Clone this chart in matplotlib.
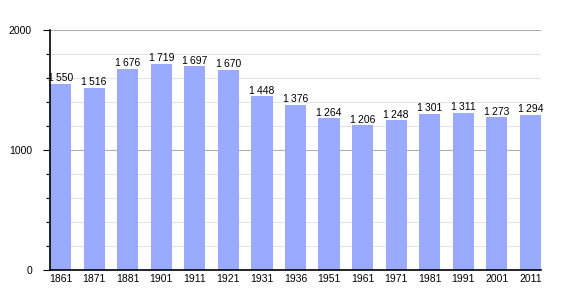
import matplotlib
matplotlib.use("Agg")
import matplotlib.pyplot as plt
from matplotlib.ticker import MultipleLocator

plt.rcParams['font.family'] = ['Liberation Sans', 'DejaVu Sans']

years = ["1861", "1871", "1881", "1901", "1911", "1921", "1931", "1936",
         "1951", "1961", "1971", "1981", "1991", "2001", "2011"]
population = [1550, 1516, 1676, 1719, 1697, 1670, 1448, 1376,
              1264, 1206, 1248, 1301, 1311, 1273, 1294]

fig = plt.figure(figsize=(5.7, 3.0), dpi=100)
ax = fig.add_axes([50 / 570, 30 / 300, 491 / 570, 240 / 300])

w = 0.63
x = range(len(years))
ax.bar(x, population, width=w, color="#99aaff", zorder=2)

for xi, v in zip(x, population):
    s = f"{v:,}".replace(",", "\u2009")
    ax.text(xi, v + 6, s, ha="center", va="bottom", fontsize=7.5, zorder=3)

ax.set_xlim(-w / 2, len(years) - 1 + w / 2)
ax.set_ylim(0, 2000)
ax.set_xticks(list(x))
ax.set_xticklabels(years, fontsize=7.5)
ax.tick_params(axis="x", length=0, pad=3)

ax.yaxis.set_major_locator(MultipleLocator(1000))
ax.yaxis.set_minor_locator(MultipleLocator(200))
ax.tick_params(axis="y", which="major", length=5, width=0.8, labelsize=7.5, pad=8)
ax.tick_params(axis="y", which="minor", length=3, width=0.8)

ax.grid(axis="y", which="minor", color="#e4e4e4", linewidth=0.8, zorder=0)
ax.grid(axis="y", which="major", color="#b0b0b0", linewidth=0.8, zorder=1)

for side in ["top", "right"]:
    ax.spines[side].set_visible(False)
ax.spines["left"].set_linewidth(1.2)
ax.spines["bottom"].set_linewidth(1.2)
ax.spines["left"].set_zorder(4)
ax.spines["bottom"].set_zorder(4)

fig.savefig("out.png", dpi=100)
